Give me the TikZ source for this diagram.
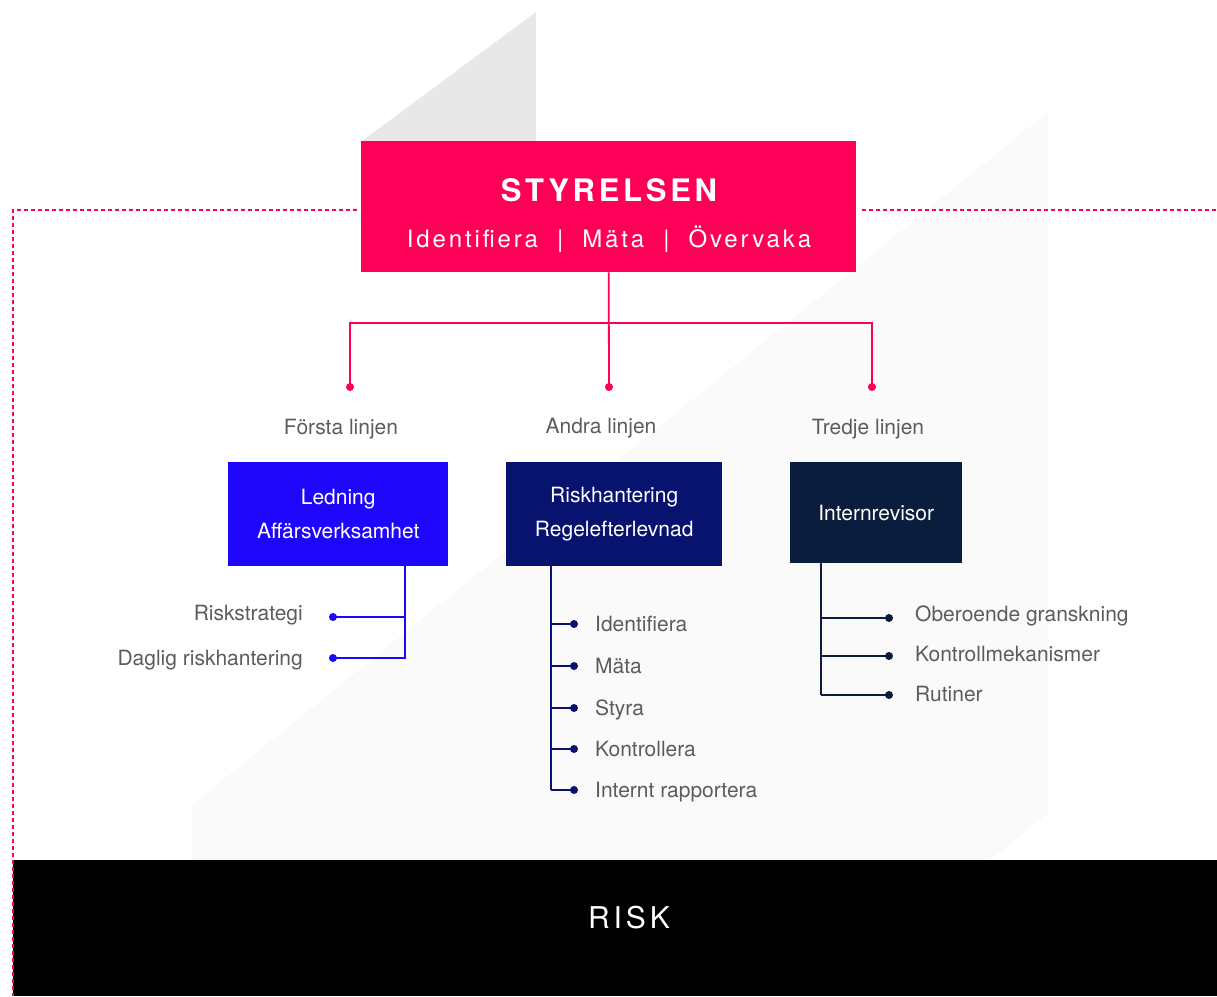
\documentclass[tikz,border=0pt]{standalone}
\usepackage{fontspec}
\setmainfont{TeX Gyre Heros}
\usepackage{tikz}
\definecolor{rkPink}{HTML}{FF0059}
\definecolor{rkBlue}{HTML}{1E06FA}
\definecolor{rkNavy}{HTML}{08136F}
\definecolor{rkDark}{HTML}{0B1D3D}
\definecolor{rkShade}{HTML}{E8E8E8}
\definecolor{rkPale}{HTML}{FAFAFA}
\definecolor{rkGrey}{HTML}{5C5C5C}
\begin{document}
\begin{tikzpicture}[x=1pt,y=-1pt,
  lbl/.style={text=rkGrey,inner sep=0pt,font=\fontsize{21}{25}\selectfont},
  unit/.style={anchor=north west,inner sep=0pt,text=white,align=center,font=\fontsize{21}{34}\selectfont},
  dot/.style={circle,fill=#1,inner sep=0pt,minimum size=8pt},
  tie/.style={draw=#1,line width=1.8pt},
  dashline/.style={rkPink,line width=1.2pt,dash pattern=on 4pt off 3pt}]
\useasboundingbox (0,0) rectangle (1217,996);
% backdrop
\fill[rkPale](192,860)--(192,805)--(1048,112)--(1048,813)--(990,860)--cycle;
\fill[rkShade](362,141)--(536,12)--(536,141)--cycle;
% board
\node[fill=rkPink,anchor=north west,minimum width=495pt,minimum height=131pt,inner sep=0pt](board) at (361,141){};
\node[text=white,anchor=base,inner sep=0pt,font=\fontsize{31}{31}\selectfont\bfseries\addfontfeatures{LetterSpace=12}](title) at (609,201){STYRELSEN};
\node[text=white,anchor=base,inner sep=0pt,font=\fontsize{24}{24}\selectfont\addfontfeatures{LetterSpace=12}](tasks) at (609,247){Identifiera\hspace{19pt}|\hspace{19pt}Mäta\hspace{19pt}|\hspace{19pt}Övervaka};
\coordinate (bL) at ([xshift=-4pt]board.north west);\coordinate (bR) at ([xshift=6pt]board.north east);
\coordinate (split) at (609,323);
% risk bar
\fill[black](13,860)rectangle(1217,996);
\node[text=white,anchor=base,inner sep=0pt,font=\fontsize{30}{30}\selectfont\addfontfeatures{LetterSpace=13}](risk) at (629,928){RISK};
\draw[dashline] (bL |- 0,210) -| (13,996);
\draw[dashline] (bR |- 0,210) -- (1217,210);
% three lines
\node[dot=rkPink](p1) at (350,387){};\node[dot=rkPink](p2) at (609,387){};\node[dot=rkPink](p3) at (872,387){};
\draw[tie=rkPink] (board.south) -- (p2.center);
\draw[tie=rkPink] (p1.center) -- (p1 |- split) -- (p3 |- split) -- (p3.center);
\node[lbl,anchor=base](l1) at (341,434){Första linjen};
\node[lbl,anchor=base](l2) at (601,433){Andra linjen};
\node[lbl,anchor=base](l3) at (868,434){Tredje linjen};
\node[unit,fill=rkBlue,minimum width=220pt,minimum height=104pt](first) at (228,462){Ledning\\Affärsverksamhet};
\node[unit,fill=rkNavy,minimum width=216pt,minimum height=104pt](second) at (506,462){Riskhantering\\Regelefterlevnad};
\node[unit,fill=rkDark,minimum width=172pt,minimum height=101pt](third) at (790,462){Internrevisor};
% first line
\node[dot=rkBlue](a1) at (333,617){};\node[dot=rkBlue](a2) at (333,658){};
\draw[tie=rkBlue] (first.south -| 405,0) |- (a2.center);
\draw[tie=rkBlue] (a1.center) -- (a1 -| 405,0);
\node[lbl,anchor=base east](at1) at (303,620){Riskstrategi};
\node[lbl,anchor=base east](at2) at (303,665){Daglig riskhantering};
% second line
\foreach \t/\y [count=\i] in {Identifiera/624,Mäta/666,Styra/708,Kontrollera/749,Internt rapportera/790}{
  \node[dot=rkNavy](b\i) at (574,\y){};
  \node[lbl,anchor=base west](bt\i) at (595,\y+7){\t};
  \draw[tie=rkNavy] (b\i.center) -- (b\i -| 551,0);
}
\draw[tie=rkNavy] (second.south -| 551,0) -- (b5 -| 551,0);
% third line
\foreach \t/\y/\z [count=\i] in {Oberoende granskning/618/621,Kontrollmekanismer/656/661,Rutiner/695/701}{
  \node[dot=rkDark](c\i) at (889,\y){};
  \node[lbl,anchor=base west](ct\i) at (915,\z){\t};
  \draw[tie=rkDark] (c\i.center) -- (c\i -| 821,0);
}
\draw[tie=rkDark] (third.south -| 821,0) -- (c3 -| 821,0);
\end{tikzpicture}
\end{document}
